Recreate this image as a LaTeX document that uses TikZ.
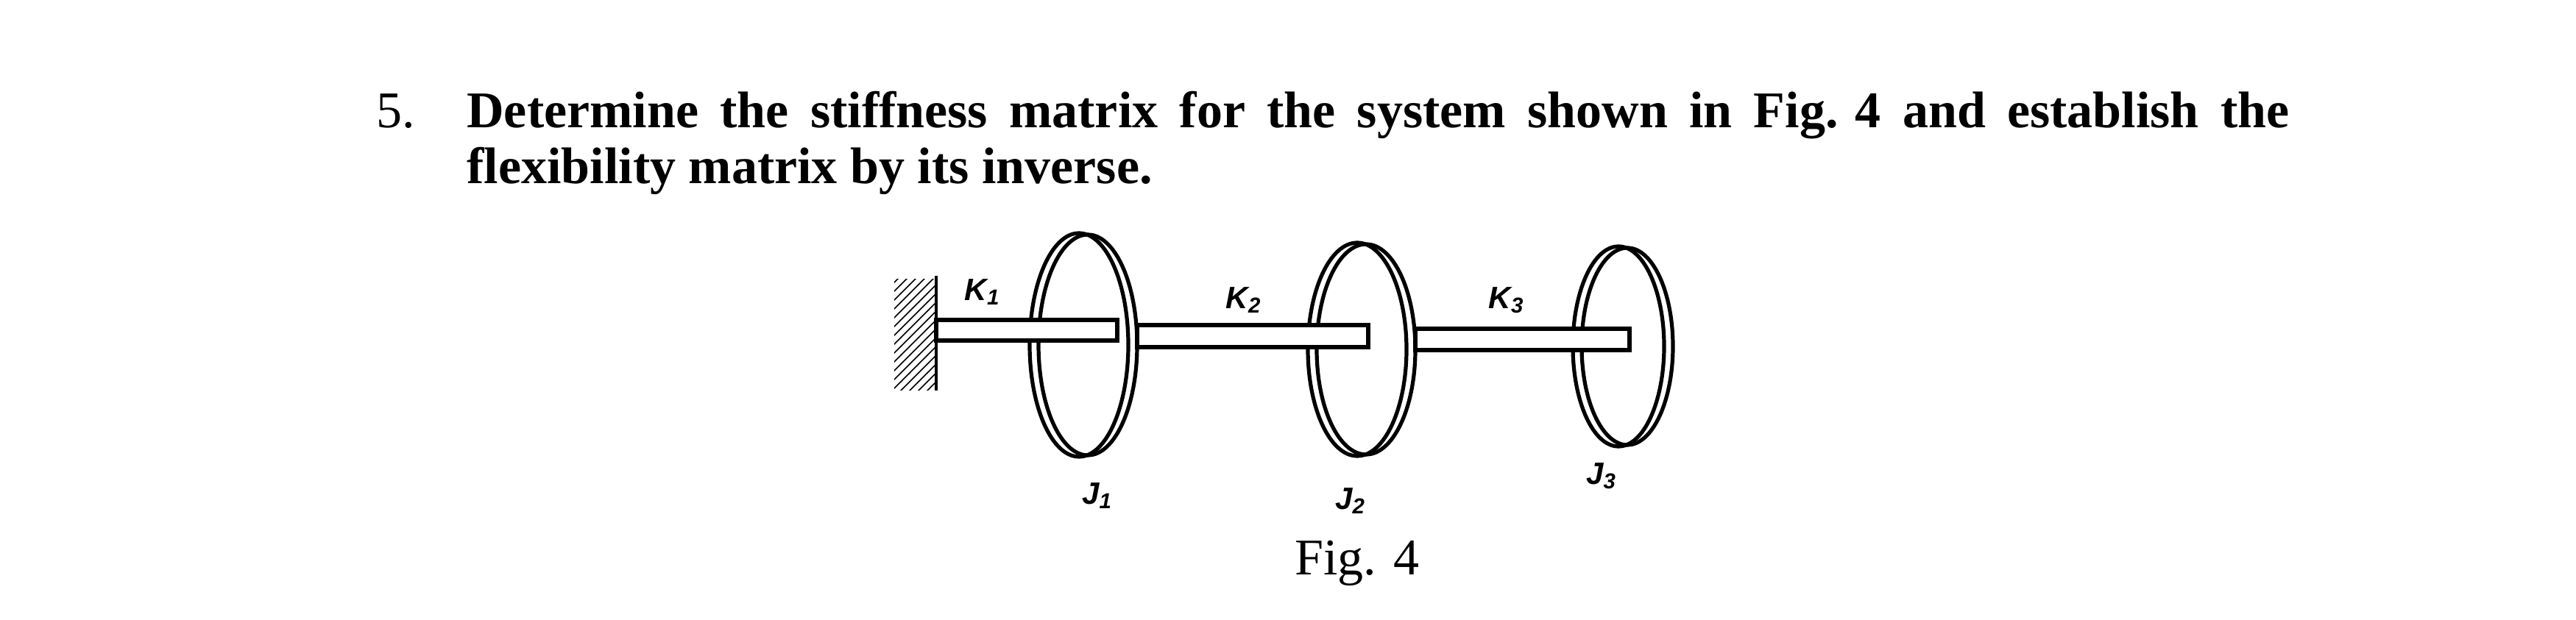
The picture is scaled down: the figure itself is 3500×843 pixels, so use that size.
\documentclass[tikz,border=0pt]{standalone}
\usepackage{fontspec}
\setmainfont{Liberation Serif}
\newfontfamily\hand{Liberation Sans}
\usetikzlibrary{patterns}
\begin{document}
\begin{tikzpicture}[x=0.25pt,y=-0.25pt,line width=1.2pt,
  lbl/.style={font=\hand\bfseries\itshape\fontsize{10.5}{10.5}\selectfont,inner sep=0pt},
  disk/.style={draw,line width=1.3pt},
  shaft/.style={draw,fill=white,line width=1.4pt}]
\useasboundingbox (0,0) rectangle (3500,843);
% title
\node[anchor=base west,inner sep=0pt,font=\fontsize{17.5}{17.5}\selectfont] (num) at (509,174) {5.};
\node[anchor=base west,inner sep=0pt,font=\bfseries\fontsize{17.5}{17.5}\selectfont] (l1) at (632,174)
 {\makebox[619pt][s]{Determine the stiffness matrix for the system shown in \mbox{Fig. 4} and establish the}};
\node[anchor=base west,inner sep=0pt,font=\bfseries\fontsize{17.5}{17.5}\selectfont] (l2) at (632,250)
 {flexibility matrix by its inverse.};
% wall
\fill[pattern=north east lines] (1215,380) rectangle (1272,531);
\draw (1272,375) -- (1272,531);
% disks
\draw[disk] (1478,469) ellipse [x radius=67,y radius=150];
\draw[disk] (1466,469) ellipse [x radius=67,y radius=152];
\draw[disk] (1856,475) ellipse [x radius=67,y radius=143];
\draw[disk] (1844,475) ellipse [x radius=67,y radius=145];
\draw[disk] (2211,471) ellipse [x radius=62,y radius=134];
\draw[disk] (2199,471) ellipse [x radius=62,y radius=136];
% shafts
\draw[shaft] (1272,435) rectangle (1518,463);
\draw[shaft] (1545,442) rectangle (1859,472);
\draw[shaft] (1923,447) rectangle (2214,476);
% labels
\node[lbl] (k1) at (1335,397) {K\textsubscript{1}};
\node[lbl] (k2) at (1690,408) {K\textsubscript{2}};
\node[lbl] (k3) at (2047,408) {K\textsubscript{3}};
\node[lbl] (j1) at (1491,674) {J\textsubscript{1}};
\node[lbl] (j2) at (1835,681) {J\textsubscript{2}};
\node[lbl] (j3) at (2176,647) {J\textsubscript{3}};
\node[inner sep=0pt,font=\fontsize{17.5}{17.5}\selectfont] (fig) at (1844,766) {Fig. 4};
\end{tikzpicture}
\end{document}
